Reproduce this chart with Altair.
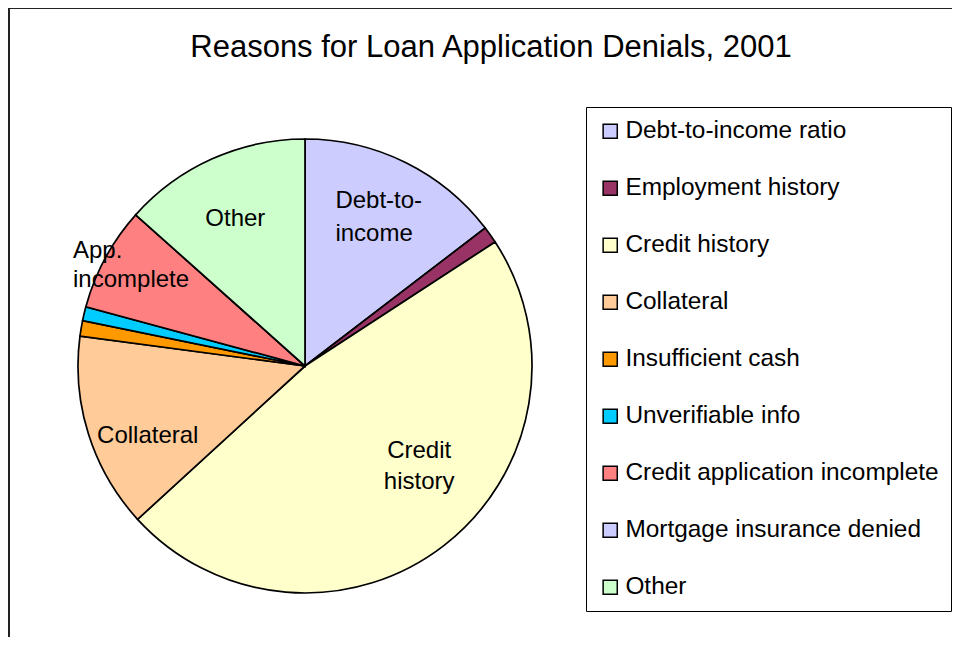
import altair as alt
import pandas as pd

categories = ["Debt-to-income ratio", "Employment history", "Credit history", "Collateral",
              "Insufficient cash", "Unverifiable info", "Credit application incomplete",
              "Mortgage insurance denied", "Other"]
values = [14.6, 1.2, 47.4, 13.9, 1.1, 1.0, 7.4, 0.0, 13.4]
labels = ["Debt-to-\nincome", "", "Credit\nhistory", "Collateral", "", "",
          "App.\nincomplete", "", "Other"]
colors = ["#CCCCFF", "#993366", "#FFFFCC", "#FFCC99", "#FF9900", "#00CCFF",
          "#FF8080", "#CCCCFF", "#CCFFCC"]

df = pd.DataFrame({"category": categories, "value": values, "label": labels,
                   "order": list(range(len(categories)))})

FONT = "Liberation Sans"
W, H = 944, 629
CX, CY = 297, 358

base = alt.Chart(df).transform_window(
    cum="sum(value)", sort=[alt.SortField("order")], frame=[None, 0]
).transform_calculate(start="datum.cum - datum.value", mid="datum.cum - datum.value / 2")

tscale = alt.Scale(domain=[0, 100])

arc = base.mark_arc(radius=227, stroke="black", strokeWidth=1.7).encode(
    theta=alt.Theta("start:Q", scale=tscale, stack=None),
    theta2="cum:Q",
    color=alt.Color("category:N", scale=alt.Scale(domain=categories, range=colors),
                    sort=categories,
                    legend=alt.Legend(title=None, orient="none", legendX=578, legendY=99,
                                      symbolType="square", symbolSize=200,
                                      symbolStrokeColor="black", symbolStrokeWidth=1.5,
                                      labelFontSize=24.4, labelFont=FONT, labelColor="black",
                                      labelLimit=500, labelOffset=3, rowPadding=32,
                                      padding=12, strokeColor="black", fillColor="white")),
    x=alt.value(CX), y=alt.value(CY),
)

def label_layer(cat, radius, dx, dy, align="center", line_height=30, theta_offset=0.0):
    return base.transform_filter(
        alt.datum.category == cat
    ).mark_text(radius=radius, thetaOffset=theta_offset, fontSize=24, font=FONT,
                dx=dx, dy=dy, color="black", lineBreak="\n", align=align,
                baseline="middle", lineHeight=line_height).encode(
        theta=alt.Theta("mid:Q", scale=tscale, stack=None),
        text="label:N",
        x=alt.value(CX), y=alt.value(CY),
    )

lab_debt = label_layer("Debt-to-income ratio", 168, -44, -14, "left", 33)
lab_other = label_layer("Other", 168, -1, 6)
lab_coll = label_layer("Collateral", 168, 3, 20)
lab_credit = label_layer("Credit history", 152, 0, -15, "center", 31, -0.19)
lab_app = label_layer("Credit application incomplete", 199, -57, -20, "left", 29)

one = pd.DataFrame({"a": [0]})
top_rule = alt.Chart(one).mark_rule(color="#222", strokeWidth=2).encode(
    x=alt.value(1), x2=alt.value(W), y=alt.value(0))
left_rule = alt.Chart(one).mark_rule(color="#222", strokeWidth=2).encode(
    x=alt.value(1), y=alt.value(0), y2=alt.value(H))

chart = alt.layer(top_rule, left_rule, arc, lab_debt, lab_other, lab_coll,
                  lab_credit, lab_app).properties(
    width=W, height=H,
    title=alt.Title("Reasons for Loan Application Denials, 2001", fontSize=31, font=FONT,
                    fontWeight="normal", color="black", anchor="middle", frame="group",
                    dx=11, dy=85, baseline="alphabetic"),
    autosize=alt.AutoSizeParams(type="none"),
    padding=0,
).configure_view(stroke=None)

chart.save("out.html", embed_options={"renderer": "svg", "actions": False})
